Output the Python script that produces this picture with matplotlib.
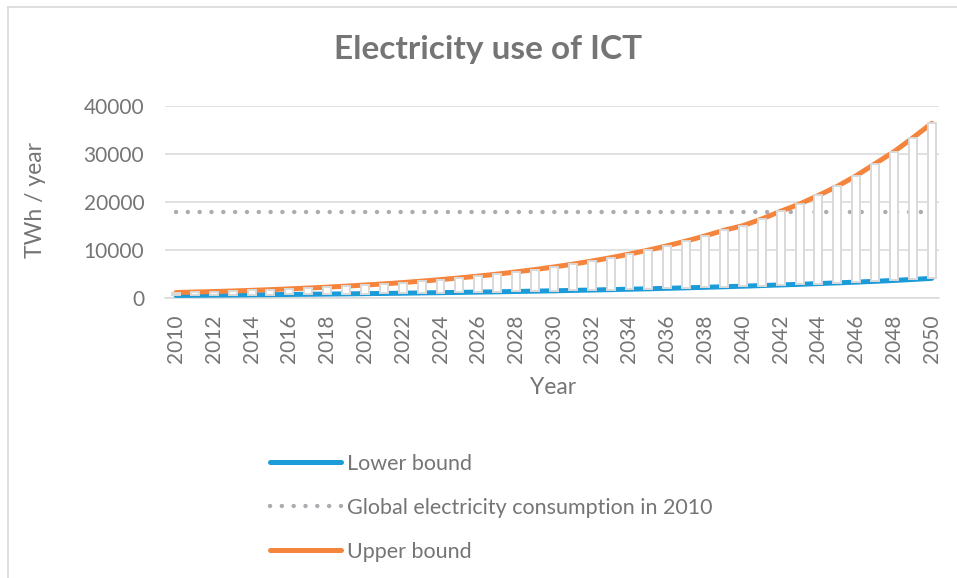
import matplotlib
matplotlib.use("Agg")
import matplotlib.pyplot as plt
from matplotlib.lines import Line2D

# values (TWh / year)
years = list(range(2010, 2051))
lower_bound = [
    600, 630, 660, 690, 730, 760, 800, 840, 880, 920,
    970, 1010, 1060, 1120, 1170, 1230, 1290, 1350, 1420, 1490,
    1560, 1640, 1720, 1800, 1890, 1980, 2080, 2180, 2290, 2400,
    2520, 2650, 2780, 2910, 3060, 3210, 3370, 3530, 3720, 3920,
    4150,
]
upper_bound = [
    1200, 1300, 1400, 1520, 1650, 1800, 1960, 2130, 2320, 2530,
    2760, 3000, 3270, 3570, 3890, 4240, 4620, 5030, 5490, 5980,
    6520, 7100, 7740, 8440, 9200, 10030, 10930, 11910, 12980, 14150,
    15100, 16500, 18100, 19600, 21400, 23300, 25500, 28000, 30500, 33400,
    36400,
]
global_2010 = [18000] * len(years)
y_ticks = [0, 10000, 20000, 30000, 40000]
x_ticks = list(range(2010, 2051, 2))

BLUE = "#1B9BD8"
ORANGE = "#F5843D"
DOTS = "#ABABB0"
GRID = "#D9D9D9"
TEXT = "#757575"

plt.rcParams["font.family"] = ["Lato", "DejaVu Sans"]

W, H = 957, 578
fig = plt.figure(figsize=(W / 100, H / 100), dpi=100)
ax = fig.add_axes([165 / W, 1 - 298.3 / H, (939 - 165) / W, (298.3 - 106) / H])

ax.plot(years, global_2010, color=DOTS, linewidth=3.2,
        linestyle=(0, (0.01, 2.65)), dash_capstyle="round", zorder=2.5,
        label="Global electricity consumption in 2010")
ax.plot(years, lower_bound, color=BLUE, linewidth=3.6, zorder=3,
        solid_capstyle="round", label="Lower bound")
ax.plot(years, upper_bound, color=ORANGE, linewidth=3.6, zorder=3,
        solid_capstyle="round", label="Upper bound")

# up/down bars between the two bounds
heights = [u - l for u, l in zip(upper_bound, lower_bound)]
ax.bar(years, heights, bottom=lower_bound, width=0.42, color="white",
       edgecolor=GRID, linewidth=1.4, zorder=4)

ax.set_xlim(2010 - 0.58, 2050 + 0.38)
ax.set_ylim(0, 40000)
ax.set_yticks(y_ticks)
ax.set_xticks(x_ticks)
ax.set_xticklabels([str(x) for x in x_ticks], rotation=90)
ax.tick_params(axis="both", length=0, labelsize=15, labelcolor=TEXT)
ax.tick_params(axis="x", pad=12)
ax.tick_params(axis="y", pad=15)
ax.grid(axis="y", color=GRID, linewidth=1.1, zorder=0)
ax.set_axisbelow(True)
for side in ["top", "right", "left"]:
    ax.spines[side].set_visible(False)
ax.spines["bottom"].set_color(GRID)
ax.spines["bottom"].set_linewidth(1.1)

fig.text(488 / W, 1 - 50 / H, "Electricity use of ICT", ha="center",
         va="center", fontsize=24, fontweight="bold", color=TEXT)
fig.text(553 / W, 1 - 387 / H, "Year", ha="center", va="center",
         fontsize=16.5, color=TEXT)
fig.text(36 / W, 1 - 200 / H, "TWh / year", ha="center", va="center",
         rotation=90, fontsize=16.5, color=TEXT)

handles, labels = ax.get_legend_handles_labels()
order = [1, 0, 2]
fig.legend([handles[i] for i in order], [labels[i] for i in order],
           loc="upper left", bbox_to_anchor=(259 / W, 1 - 443 / H),
           frameon=False, fontsize=15.5, labelcolor=TEXT, handlelength=3.3,
           handletextpad=0.3, labelspacing=1.12, borderpad=0)

# chart-area border (left and top visible in the reference)
fig.add_artist(Line2D([8 / W, 8 / W], [0, 1 - 7 / H], transform=fig.transFigure,
                      color=GRID, linewidth=1.2))
fig.add_artist(Line2D([8 / W, 1], [1 - 7 / H, 1 - 7 / H], transform=fig.transFigure,
                      color=GRID, linewidth=1.2))

fig.savefig("out.png", dpi=100)
plt.close(fig)
